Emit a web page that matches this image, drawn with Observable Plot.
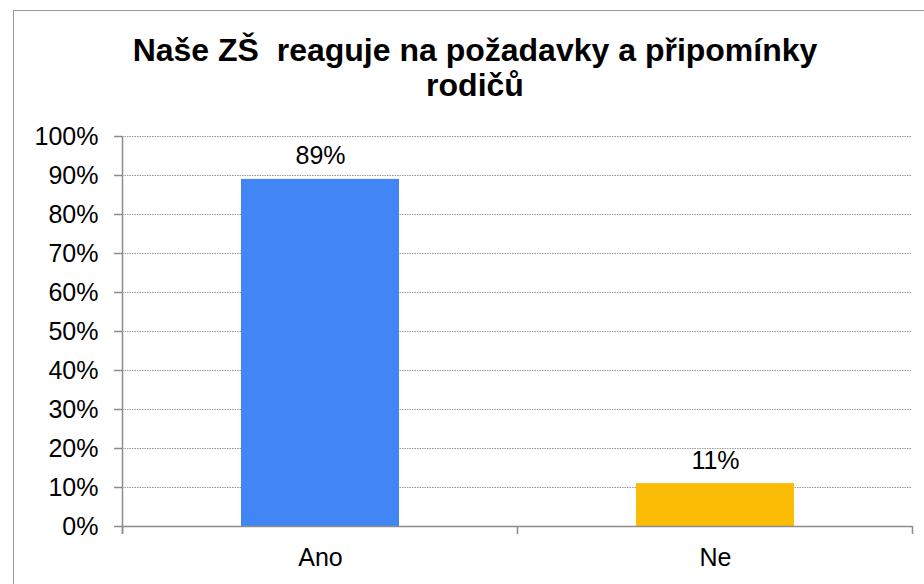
<!DOCTYPE html>
<html>
<head>
<meta charset="utf-8">
<script src="https://cdn.jsdelivr.net/npm/d3@7"></script>
<script src="https://cdn.jsdelivr.net/npm/@observablehq/plot@0.6"></script>
<style>
  html, body { margin: 0; padding: 0; background: #fff; }
  #wrap { position: relative; width: 924px; height: 584px; overflow: hidden; font-family: "Liberation Sans", Arial, sans-serif; }
  #frame { position: absolute; left: 13px; top: 10px; width: 940px; height: 600px; border: 1.5px solid #9a9a9a; box-sizing: border-box; }
  #title { position: absolute; left: 0; top: 33px; width: 950px; text-align: center; font-weight: bold; font-size: 32px; line-height: 35px; color: #000; }
  #chart { position: absolute; left: 0; top: 0; }
</style>
</head>
<body>
<div id="wrap">
  <div id="frame"></div>
  <div id="chart"></div>
  <div id="title">Naše ZŠ&nbsp; reaguje na požadavky a připomínky<br>rodičů</div>
</div>
<script>
const titleText = "Naše ZŠ  reaguje na požadavky a připomínky rodičů";
const categories = ["Ano", "Ne"];
const values = [0.89, 0.11];
const barColors = ["#4285F4", "#FBBC05"];
const yTicks = [0, 0.1, 0.2, 0.3, 0.4, 0.5, 0.6, 0.7, 0.8, 0.9, 1.0];

const data = categories.map((c, i) => ({cat: c, val: values[i]}));
const pct = d3.format(".0%");

const plot = Plot.plot({
  width: 924,
  height: 584,
  marginTop: 136,
  marginBottom: 58,
  marginLeft: 122,
  marginRight: 12,
  style: {fontFamily: "Liberation Sans, Arial, sans-serif", fontSize: "25px", color: "#000", background: "transparent", overflow: "visible"},
  x: {domain: categories, paddingInner: 0.6, paddingOuter: 0.3, label: null},
  y: {domain: [0, 1], label: null},
  color: {domain: categories, range: barColors},
  marks: [
    Plot.gridY(yTicks, {stroke: "#9a9a9a", strokeOpacity: 1, strokeWidth: 1, strokeDasharray: "1.5,1"}),
    Plot.barY(data, {x: "cat", y: "val", fill: "cat"}),
    Plot.text(data, {x: "cat", y: "val", text: d => pct(d.val), lineAnchor: "bottom", dy: -15, fontSize: 25, fill: "#000"}),
    Plot.ruleY([0], {stroke: "#8c8c8c", strokeWidth: 1.5}),
    Plot.axisY({ticks: yTicks, tickFormat: pct, tickSize: 8, tickPadding: 16, stroke: "#8c8c8c", strokeWidth: 1.5, fontSize: 25, label: null}),
    Plot.axisX({tickSize: 0, tickPadding: 22, fontSize: 25, label: null})
  ]
});

document.getElementById("chart").appendChild(plot);

// axis line and category boundary ticks derived from Plot's scales
const xs = plot.scale("x");
const ys = plot.scale("y");
const svg = d3.select(plot);
const y0 = ys.apply(0), y1 = ys.apply(1);
const bounds = [];
categories.forEach((c, i) => {
  const center = xs.apply(c) + xs.bandwidth / 2;
  if (i === 0) bounds.push(center - xs.step / 2);
  bounds.push(center + xs.step / 2);
});
const g = svg.append("g").attr("stroke", "#8c8c8c").attr("stroke-width", 1.5);
g.append("line").attr("x1", bounds[0]).attr("x2", bounds[0]).attr("y1", y1).attr("y2", y0 + 8);
bounds.forEach(b => g.append("line").attr("x1", b).attr("x2", b).attr("y1", y0).attr("y2", y0 + 8));
</script>
</body>
</html>
